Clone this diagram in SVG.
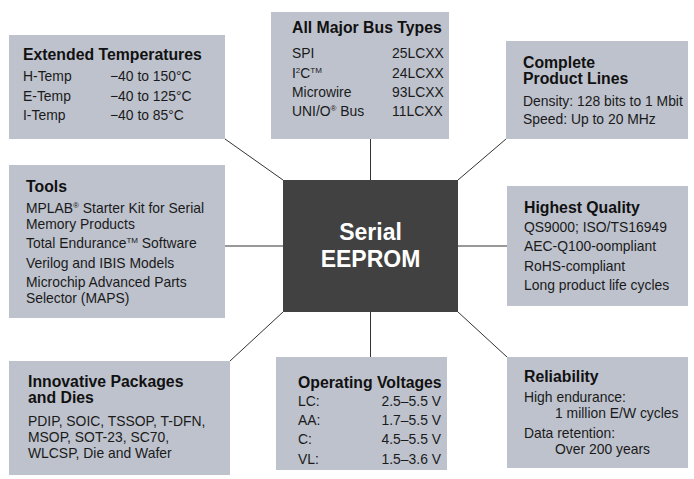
<svg xmlns="http://www.w3.org/2000/svg" width="694" height="479" viewBox="0 0 694 479">
<style>
.box{fill:#bec2cd}
.t{font-family:"Liberation Sans",Arial,sans-serif;font-weight:bold;font-size:15.8px;fill:#111}
.b{font-family:"Liberation Sans",Arial,sans-serif;font-size:13.9px;fill:#1a1a1a}
.c{font-family:"Liberation Sans",Arial,sans-serif;font-weight:bold;font-size:23px;fill:#fff;text-anchor:middle}
.ln{stroke:#333;stroke-width:1;fill:none}
.sup{font-size:8px}
</style>
<rect width="694" height="479" fill="#fff"/>
<g id="connectors">
<line class="ln" x1="225" y1="139" x2="283" y2="180"/>
<line class="ln" x1="370.5" y1="139" x2="370.5" y2="180"/>
<line class="ln" x1="458" y1="180" x2="506" y2="139"/>
<line class="ln" x1="225" y1="246" x2="283" y2="246" stroke="#777"/>
<line class="ln" x1="458" y1="246" x2="507" y2="246" stroke="#777"/>
<line class="ln" x1="283" y1="312" x2="230" y2="361"/>
<line class="ln" x1="370.5" y1="312" x2="370.5" y2="357"/>
<line class="ln" x1="458" y1="312" x2="507" y2="357"/>
</g>
<g id="center">
<rect x="283" y="180" width="175" height="132" fill="#414141"/>
<text class="c" x="370.5" y="240">Serial</text>
<text class="c" x="370.5" y="267">EEPROM</text>
</g>
<g id="ext-temps">
<rect class="box" x="9" y="35" width="216" height="104"/>
<text class="t" x="23" y="60">Extended Temperatures</text>
<text class="b" x="23" y="81">H-Temp</text><text class="b" x="110" y="81">−40 to 150°C</text>
<text class="b" x="23" y="101">E-Temp</text><text class="b" x="110" y="101">−40 to 125°C</text>
<text class="b" x="23" y="120">I-Temp</text><text class="b" x="110" y="120">−40 to 85°C</text>
</g>
<g id="bus-types">
<rect class="box" x="271" y="12" width="178" height="127"/>
<text class="t" x="292" y="33">All Major Bus Types</text>
<text class="b" x="292" y="58">SPI</text><text class="b" x="392" y="58">25LCXX</text>
<text class="b" x="292" y="78">I<tspan class="sup" dy="-5">2</tspan><tspan dy="5">C</tspan><tspan class="sup" dy="-5">TM</tspan></text><text class="b" x="392" y="78">24LCXX</text>
<text class="b" x="292" y="97">Microwire</text><text class="b" x="392" y="97">93LCXX</text>
<text class="b" x="292" y="116">UNI/O<tspan class="sup" dy="-5">®</tspan><tspan dy="5"> Bus</tspan></text><text class="b" x="392" y="116">11LCXX</text>
</g>
<g id="product-lines">
<rect class="box" x="506" y="41" width="182" height="98"/>
<text class="t" x="523" y="68">Complete</text>
<text class="t" x="523" y="84">Product Lines</text>
<text class="b" x="523" y="106">Density: 128 bits to 1 Mbit</text>
<text class="b" x="523" y="124">Speed: Up to 20 MHz</text>
</g>
<g id="tools">
<rect class="box" x="9" y="165" width="216" height="153"/>
<text class="t" x="26" y="192">Tools</text>
<text class="b" x="26" y="213">MPLAB<tspan class="sup" dy="-5">®</tspan><tspan dy="5"> Starter Kit for Serial</tspan></text>
<text class="b" x="26" y="229">Memory Products</text>
<text class="b" x="26" y="248">Total Endurance<tspan class="sup" dy="-5">TM</tspan><tspan dy="5"> Software</tspan></text>
<text class="b" x="26" y="268">Verilog and IBIS Models</text>
<text class="b" x="26" y="287">Microchip Advanced Parts</text>
<text class="b" x="26" y="303">Selector (MAPS)</text>
</g>
<g id="quality">
<rect class="box" x="507" y="186" width="181" height="120"/>
<text class="t" x="524" y="213">Highest Quality</text>
<text class="b" x="524" y="232">QS9000; ISO/TS16949</text>
<text class="b" x="524" y="251">AEC-Q100-oompliant</text>
<text class="b" x="524" y="271">RoHS-compliant</text>
<text class="b" x="524" y="290">Long product life cycles</text>
</g>
<g id="packages">
<rect class="box" x="9" y="361" width="221" height="114"/>
<text class="t" x="28" y="387">Innovative Packages</text>
<text class="t" x="28" y="403">and Dies</text>
<text class="b" x="28" y="426">PDIP, SOIC, TSSOP, T-DFN,</text>
<text class="b" x="28" y="442">MSOP, SOT-23, SC70,</text>
<text class="b" x="28" y="458">WLCSP, Die and Wafer</text>
</g>
<g id="voltages">
<rect class="box" x="276" y="357" width="171" height="113"/>
<text class="t" x="298" y="388">Operating Voltages</text>
<text class="b" x="298" y="406">LC:</text><text class="b" x="441" y="406" text-anchor="end">2.5–5.5 V</text>
<text class="b" x="298" y="425">AA:</text><text class="b" x="441" y="425" text-anchor="end">1.7–5.5 V</text>
<text class="b" x="298" y="444">C:</text><text class="b" x="441" y="444" text-anchor="end">4.5–5.5 V</text>
<text class="b" x="298" y="464">VL:</text><text class="b" x="441" y="464" text-anchor="end">1.5–3.6 V</text>
</g>
<g id="reliability">
<rect class="box" x="507" y="357" width="181" height="111"/>
<text class="t" x="524" y="382">Reliability</text>
<text class="b" x="524" y="402">High endurance:</text>
<text class="b" x="555" y="418">1 million E/W cycles</text>
<text class="b" x="524" y="438">Data retention:</text>
<text class="b" x="555" y="454">Over 200 years</text>
</g>
</svg>
